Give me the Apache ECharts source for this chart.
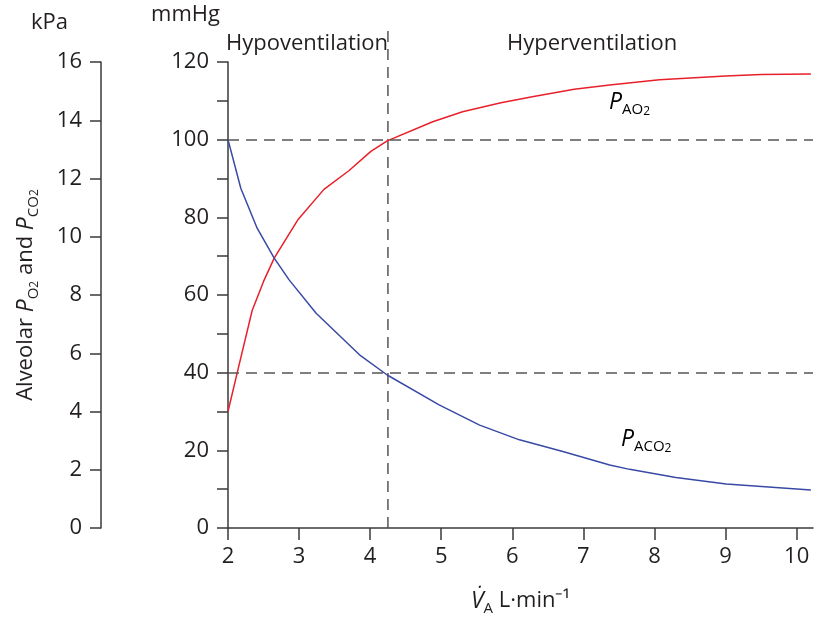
<!DOCTYPE html>
<html>
<head>
<meta charset="utf-8">
<script src="https://cdn.jsdelivr.net/npm/echarts@6/dist/echarts.min.js"></script>
<style>
    html, body { margin: 0; padding: 0; background: #fff; }
    #chart { width: 833px; height: 617px; }
</style>
</head>
<body>
<div id="chart"></div>
<script>
// ventilation (L/min) vs alveolar pressures (mmHg)
const xTicks = [2, 3, 4, 5, 6, 7, 8, 9, 10]
const xMin = 2
const xMax = 10.23
const mmHgMax = 120
const kPaMax = 16
const refLevels = [100, 40]
const splitAt = 4.25
const splitTop = 128

const pAO2 = [
    [2, 30], [2.13, 40], [2.34, 56], [2.5, 63.5], [2.65, 69.5], [2.98, 79.3],
    [3.35, 87.2], [3.7, 92], [4.01, 97], [4.24, 99.7], [4.88, 104.6],
    [5.3, 107.2], [5.84, 109.5], [6.3, 111.1], [6.87, 113], [7.37, 114.1],
    [8.07, 115.4], [9.0, 116.4], [9.5, 116.8], [10.2, 116.9]
]
const pACO2 = [
    [2, 100], [2.18, 87.5], [2.41, 77.2], [2.65, 69.5], [2.86, 63.9],
    [3.24, 55.3], [3.85, 44.6], [4.24, 39.4], [4.97, 31.7], [5.54, 26.5],
    [6.1, 22.7], [6.71, 19.7], [7.37, 16.2], [7.65, 15.1], [8.3, 13],
    [9.01, 11.3], [10.2, 9.8]
]

const font = 'Open Sans'
const ink = '#231f20'
const axisCol = '#3a3a3a'
const dash = '#555'

const chart = echarts.init(document.getElementById('chart'))

const subRich = {
    i: { fontStyle: 'italic', fontSize: 23, fontFamily: font, color: ink, lineHeight: 30 },
    sub: { fontSize: 15, fontFamily: font, color: ink, lineHeight: 14, verticalAlign: 'bottom' },
    s2: { fontSize: 12, fontFamily: font, color: ink, lineHeight: 9, verticalAlign: 'bottom' },
    t: { fontSize: 22, fontFamily: font, color: ink, lineHeight: 30 }
}
const plain = { fontSize: 22, fontFamily: font, fill: ink }

const axisBase = {
    axisLine: { show: true, lineStyle: { color: axisCol, width: 1.5 } },
    axisTick: { show: true, length: 11, lineStyle: { color: axisCol, width: 1.5 } },
    axisLabel: { fontSize: 22, fontFamily: font, color: ink, margin: 19 },
    splitLine: { show: false }
}

chart.setOption({
    animation: false,
    grid: { left: 228, right: 20, top: 62, bottom: 89, outerBoundsMode: 'none' },
    xAxis: {
        type: 'value',
        min: xMin,
        max: xMax,
        ...axisBase,
        axisTick: { ...axisBase.axisTick, length: 12, customValues: xTicks },
        axisLabel: { ...axisBase.axisLabel, margin: 18, customValues: xTicks },
        name: '{i|V̇}{sub|A}{t| L·min⁻¹}',
        nameLocation: 'middle',
        nameGap: 58,
        nameTextStyle: { rich: subRich }
    },
    yAxis: [
        {
            type: 'value',
            min: 0,
            max: mmHgMax,
            interval: 10,
            ...axisBase,
            axisLabel: {
                ...axisBase.axisLabel,
                formatter: v => (v % 20 === 0 ? String(v) : '')
            },
            name: 'mmHg',
            nameLocation: 'end',
            nameGap: 36,
            nameTextStyle: { fontSize: 22, fontFamily: font, color: ink, align: 'right', padding: [0, 8, 0, 0] }
        },
        {
            type: 'value',
            min: 0,
            max: kPaMax,
            interval: 2,
            position: 'left',
            offset: 127,
            ...axisBase,
            name: '{t|Alveolar }{i|P}{sub|O}{s2|2}{t| and }{i|P}{sub|CO}{s2|2}',
            nameLocation: 'middle',
            nameGap: 60,
            nameRotate: 90,
            nameTextStyle: { rich: subRich }
        }
    ],
    graphic: [
        { type: 'text', left: 31, top: 12, style: { text: 'kPa', ...plain } },
        { type: 'text', left: 226, top: 33, style: { text: 'Hypoventilation', ...plain } },
        { type: 'text', left: 507, top: 33, style: { text: 'Hyperventilation', ...plain } },
        { type: 'text', left: 609, top: 91, style: { text: '{i|P}{sub|AO}{s2|2}', rich: subRich } },
        { type: 'text', left: 621, top: 428, style: { text: '{i|P}{sub|ACO}{s2|2}', rich: subRich } }
    ],
    series: [
        {
            name: 'PAO2',
            type: 'line',
            data: pAO2,
            showSymbol: false,
            lineStyle: { color: '#e8202a', width: 1.5 },
            markLine: {
                silent: true,
                symbol: 'none',
                label: { show: false },
                lineStyle: { color: dash, type: [11, 7], width: 1.5 },
                data: refLevels.map(v => ({ yAxis: v }))
            }
        },
        {
            name: 'PACO2',
            type: 'line',
            data: pACO2,
            showSymbol: false,
            lineStyle: { color: '#3949a6', width: 1.5 }
        },
        {
            name: 'split',
            type: 'line',
            data: [[splitAt, 0], [splitAt, splitTop]],
            showSymbol: false,
            clip: false,
            lineStyle: { color: dash, type: [11, 7], width: 1.5 },
            z: 1
        }
    ]
})
</script>
</body>
</html>
